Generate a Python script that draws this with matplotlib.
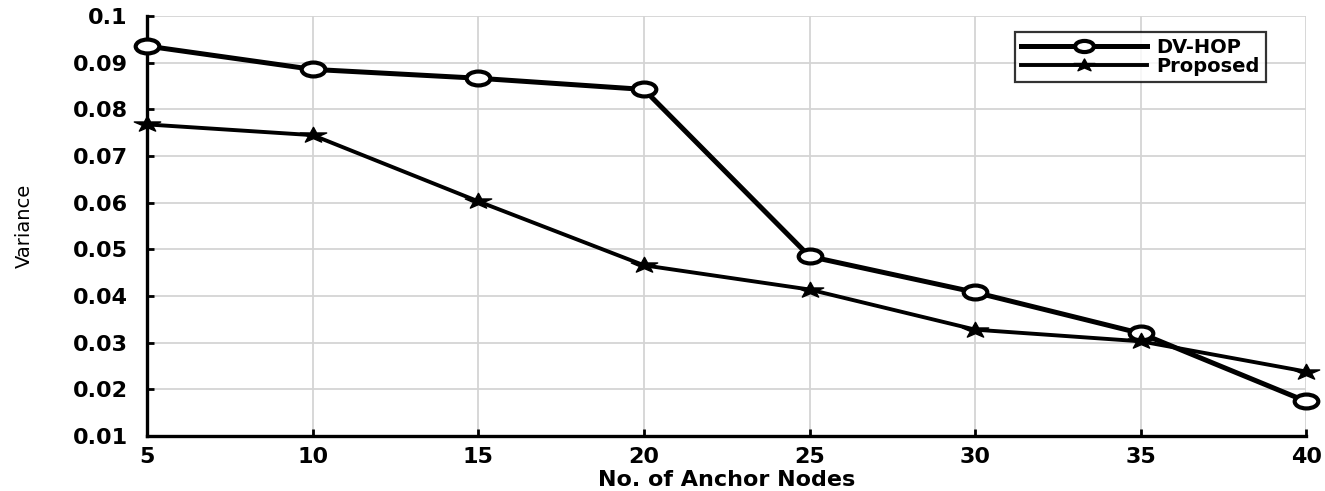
import matplotlib.pyplot as plt
from matplotlib.markers import MarkerStyle
from matplotlib.path import Path
from matplotlib.transforms import Affine2D

anchor_nodes = [5, 10, 15, 20, 25, 30, 35, 40]
dv_hop = [0.0936, 0.0886, 0.0867, 0.0843, 0.0485, 0.0408, 0.0320, 0.0174]
proposed = [0.0768, 0.0745, 0.0603, 0.0466, 0.0414, 0.0328, 0.0303, 0.0238]
y_ticks = [0.01, 0.02, 0.03, 0.04, 0.05, 0.06, 0.07, 0.08, 0.09, 0.1]
y_tick_labels = ["0.01", "0.02", "0.03", "0.04", "0.05", "0.06", "0.07", "0.08", "0.09", "0.1"]

plt.rcParams["font.family"] = ["DejaVu Sans"]

# the source picture is squashed vertically, so the markers are wide ellipses
squash = Affine2D().scale(1.7, 1.0)
ellipse = squash.transform_path(Path.unit_circle())
star = squash.transform_path(MarkerStyle("*").get_path())

fig = plt.figure(figsize=(13.25, 4.91), dpi=100)
ax = fig.add_axes([0.111, 0.112, 0.875, 0.855])

ax.plot(anchor_nodes, dv_hop, color="black", linewidth=3.6, marker=ellipse,
        markersize=17, markerfacecolor="white", markeredgewidth=3.0,
        label="DV-HOP", clip_on=False, zorder=3)
ax.plot(anchor_nodes, proposed, color="black", linewidth=2.8, marker=star,
        markersize=19, markerfacecolor="black", label="Proposed",
        clip_on=False, zorder=3)

ax.set_xlim(5, 40)
ax.set_ylim(0.01, 0.1)
ax.set_xticks(anchor_nodes)
ax.set_yticks(y_ticks)
ax.set_yticklabels(y_tick_labels)
ax.grid(True, color="#d4d4d4", linewidth=1.3)
ax.set_axisbelow(True)

for side in ["top", "right"]:
    ax.spines[side].set_visible(False)
for side in ["left", "bottom"]:
    ax.spines[side].set_linewidth(2.4)

ax.tick_params(direction="in", length=5, width=2, labelsize=16, pad=14)
ax.tick_params(axis="x", pad=8)
for lbl in ax.get_xticklabels() + ax.get_yticklabels():
    lbl.set_fontweight("bold")

ax.set_xlabel("No. of Anchor Nodes", fontsize=16, fontweight="bold", labelpad=2)
ax.set_ylabel("Variance", fontsize=14, labelpad=28)

leg = ax.legend(loc="upper right", bbox_to_anchor=(0.965, 0.962), fontsize=14,
                frameon=True, fancybox=False, edgecolor="black", handlelength=6.5,
                borderpad=0.3, labelspacing=0.0, handletextpad=0.5,
                borderaxespad=0.0, markerscale=0.8)
leg.get_frame().set_linewidth(1.6)
for t in leg.get_texts():
    t.set_fontweight("bold")

fig.savefig("out.png", dpi=100)
